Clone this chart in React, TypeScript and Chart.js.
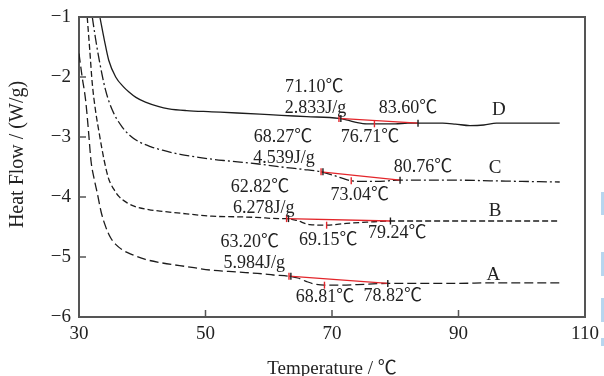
import React, { useEffect, useRef } from "react";
import { Chart, registerables } from "chart.js";
Chart.register(...registerables);

const FONT = "'Liberation Serif', 'Noto Sans CJK SC', serif";

// ---- Data (temperature °C, heat flow W/g) ----
const tA = [30, 30.5, 31.05, 31.5, 31.9, 32.4, 32.9, 33.5, 34.2, 35, 35.8, 37, 38.4, 40.5, 43.2, 47, 51, 55, 59, 60.7, 63.2, 64.6, 66, 67.2, 68.81, 71, 74, 78.82, 85, 90, 95, 100, 106];
const vA = [-1.61, -2.0, -2.39, -2.9, -3.4, -3.7, -3.94, -4.25, -4.49, -4.68, -4.79, -4.89, -4.96, -5.04, -5.10, -5.16, -5.22, -5.25, -5.28, -5.30, -5.32, -5.35, -5.41, -5.45, -5.47, -5.47, -5.46, -5.44, -5.44, -5.44, -5.43, -5.43, -5.43];

const tB = [31.3, 31.7, 32.1, 32.6, 33.2, 34.0, 34.7, 35.5, 36.3, 37.5, 38.9, 41, 43.2, 47, 51, 55, 58, 61.6, 62.82, 64.4, 66.5, 69.15, 72.3, 75.5, 79.24, 85, 90, 95, 100, 106];
const vB = [-1.0, -1.55, -2.11, -2.55, -2.94, -3.4, -3.7, -3.87, -3.99, -4.09, -4.16, -4.21, -4.24, -4.28, -4.32, -4.33, -4.34, -4.36, -4.36, -4.39, -4.46, -4.47, -4.44, -4.42, -4.40, -4.40, -4.40, -4.40, -4.40, -4.40];

const tC = [32.1, 32.6, 33.2, 34.2, 35.3, 36.8, 38, 39.5, 41.3, 43.2, 46, 48.4, 51, 53.7, 58.4, 62, 65.4, 68.27, 70, 71.7, 73.04, 75, 77, 80.76, 85, 90, 95, 100, 106];
const vC = [-1.0, -1.35, -1.72, -2.22, -2.56, -2.83, -2.97, -3.08, -3.16, -3.22, -3.29, -3.33, -3.37, -3.40, -3.45, -3.50, -3.54, -3.58, -3.63, -3.69, -3.73, -3.74, -3.74, -3.72, -3.72, -3.72, -3.73, -3.74, -3.75];

const tD = [33.3, 34.0, 34.7, 35.8, 37.0, 37.9, 39.0, 40.5, 42.5, 44.2, 47, 51, 55, 58.6, 62, 66, 71.1, 72.5, 74, 75.5, 76.71, 78.5, 80, 82, 83.6, 85.5, 87.5, 89.5, 91.8, 94, 96, 100, 106];
const vD = [-1.0, -1.38, -1.72, -2.0, -2.16, -2.25, -2.34, -2.42, -2.49, -2.53, -2.56, -2.58, -2.60, -2.62, -2.64, -2.66, -2.69, -2.72, -2.76, -2.78, -2.78, -2.78, -2.78, -2.77, -2.77, -2.77, -2.77, -2.785, -2.81, -2.80, -2.77, -2.77, -2.77];

const seriesNames = ["A", "B", "C", "D"];
const onsetT = [63.2, 62.82, 68.27, 71.1];
const onsetV = [-5.32, -4.36, -3.58, -2.69];
const peakT = [68.81, 69.15, 73.04, 76.71];
const peakV = [-5.47, -4.47, -3.73, -2.78];
const endT = [78.82, 79.24, 80.76, 83.6];
const endV = [-5.44, -4.4, -3.72, -2.77];
const enthalpy = ["5.984J/g", "6.278J/g", "4.539J/g", "2.833J/g"];

const xTicks = [30, 50, 70, 90, 110];
const yTicks = [-1, -2, -3, -4, -5, -6];

// annotation anchor positions (data coordinates)
const onsetLabelAt = [[57.0, -4.75], [58.6, -3.83], [62.25, -3.0], [67.2, -2.17]];
const enthLabelAt = [[57.7, -5.1], [59.2, -4.18], [62.4, -3.35], [67.4, -2.52]];
const peakLabelAt = [[68.9, -5.67], [69.4, -4.72], [74.4, -3.97], [76.0, -3.0]];
const endLabelAt = [[79.6, -5.65], [80.3, -4.6], [84.4, -3.5], [82.0, -2.52]];
const nameLabelAt = [[95.5, -5.3], [95.8, -4.23], [95.8, -3.52], [96.4, -2.55]];

const mk = (t: number[], v: number[]) => t.map((x, i) => ({ x, y: v[i] }));

export default function App() {
  const ref = useRef<HTMLCanvasElement>(null);
  useEffect(() => {
    document.body.style.margin = "0";
    const canvas = ref.current!;
    const curves = [
      { t: tA, v: vA, dash: [9, 4] },
      { t: tB, v: vB, dash: [6, 3] },
      { t: tC, v: vC, dash: [10, 3, 2, 3] },
      { t: tD, v: vD, dash: [] as number[] },
    ];
    const RED = "#e3262b";
    const INK = "#1c1c1c";

    const redTicks = { x: [] as number[], y: [] as number[] };
    const blackTicks = { x: [] as number[], y: [] as number[] };
    for (let i = 0; i < 4; i++) {
      redTicks.x.push(onsetT[i], peakT[i]);
      redTicks.y.push(onsetV[i], peakV[i]);
      blackTicks.x.push(onsetT[i] + 0.3, endT[i]);
      blackTicks.y.push(onsetV[i], endV[i]);
    }

    const datasets: any[] = [];
    datasets.push({
      data: mk(redTicks.x, redTicks.y), showLine: false, pointStyle: "line", rotation: 90,
      pointRadius: 3.5, pointBorderColor: RED, pointBorderWidth: 1.4, borderColor: RED,
    });
    datasets.push({
      data: mk(blackTicks.x, blackTicks.y), showLine: false, pointStyle: "line", rotation: 90,
      pointRadius: 3.5, pointBorderColor: INK, pointBorderWidth: 1.4, borderColor: INK,
    });
    for (let i = 0; i < 4; i++) {
      datasets.push({
        data: mk([onsetT[i], endT[i]], [onsetV[i], endV[i]]),
        borderColor: RED, borderWidth: 1.3, pointRadius: 0,
      });
    }
    curves.forEach((c) => {
      datasets.push({
        data: mk(c.t, c.v), borderColor: INK, borderWidth: 1.3, borderDash: c.dash,
        pointRadius: 0, cubicInterpolationMode: "monotone",
      });
    });

    const framePlugin = {
      id: "frame",
      afterDraw(chart: any) {
        const { ctx, chartArea: a, scales } = chart;
        ctx.save();
        ctx.strokeStyle = "#555";
        ctx.lineWidth = 2;
        ctx.beginPath();
        ctx.moveTo(a.left, a.top); ctx.lineTo(a.right, a.top); ctx.lineTo(a.right, a.bottom);
        ctx.stroke();
        ctx.lineWidth = 1.5;
        ctx.beginPath();
        xTicks.slice(1, -1).forEach((t) => {
          const px = scales.x.getPixelForValue(t);
          ctx.moveTo(px, a.bottom); ctx.lineTo(px, a.bottom - 7);
        });
        yTicks.slice(1, -1).forEach((v) => {
          const py = scales.y.getPixelForValue(v);
          ctx.moveTo(a.left, py); ctx.lineTo(a.left + 7, py);
        });
        ctx.stroke();
        // small light-blue strips at the right edge of the picture
        ctx.fillStyle = "#b7d6ef";
        [[192, 23], [252, 24], [298, 24], [338, 8]].forEach(([y, h]) => ctx.fillRect(601, y, 3, h));
        ctx.restore();
      },
      afterDatasetsDraw(chart: any) {
        const { ctx, scales } = chart;
        ctx.save();
        ctx.fillStyle = "#222";
        ctx.textAlign = "center";
        ctx.textBaseline = "middle";
        const put = (txt: string, p: number[], size: number) => {
          ctx.font = `${size}px ${FONT}`;
          ctx.fillText(txt, scales.x.getPixelForValue(p[0]), scales.y.getPixelForValue(p[1]));
        };
        for (let i = 0; i < 4; i++) {
          put(onsetT[i].toFixed(2) + "℃", onsetLabelAt[i], 18);
          put(enthalpy[i], enthLabelAt[i], 18);
          put(peakT[i].toFixed(2) + "℃", peakLabelAt[i], 18);
          put(endT[i].toFixed(2) + "℃", endLabelAt[i], 18);
          put(seriesNames[i], nameLabelAt[i], 19);
        }
        ctx.restore();
      },
    };

    const chart = new Chart(canvas, {
      type: "line",
      data: { datasets },
      plugins: [framePlugin],
      options: {
        animation: false,
        responsive: false,
        layout: { padding: { left: 0, top: 17, right: 19, bottom: 0 } },
        plugins: { legend: { display: false }, tooltip: { enabled: false } },
        scales: {
          x: {
            type: "linear", min: 30, max: 110,
            afterBuildTicks: (s: any) => { s.ticks = xTicks.map((v) => ({ value: v })); },
            ticks: { font: { family: FONT, size: 19 }, color: "#222", padding: -2, maxRotation: 0, autoSkip: false },
            grid: { display: false },
            border: { display: true, color: "#555", width: 2 },
            title: { display: true, text: "Temperature / ℃", color: "#222", font: { family: FONT, size: 19 }, padding: { top: 0, bottom: -4 } },
            afterFit: (s: any) => { s.height = 59; },
          },
          y: {
            type: "linear", min: -6, max: -1,
            afterBuildTicks: (s: any) => { s.ticks = yTicks.map((v) => ({ value: v })); },
            ticks: {
              font: { family: FONT, size: 19 }, color: "#222", padding: 0,
              callback: (v: any) => (v < 0 ? "−" + Math.abs(v) : String(v)),
            },
            grid: { display: false },
            border: { display: true, color: "#555", width: 2 },
            title: { display: true, text: "\u2003 Heat Flow / (W/g)", color: "#222", font: { family: FONT, size: 20 }, padding: { top: 6, bottom: 0 } },
            afterFit: (s: any) => { s.width = 79; },
          },
        },
      },
    });
    return () => chart.destroy();
  }, []);
  return (
    <div style={{ width: 604, height: 376, background: "#fff" }}>
      <canvas ref={ref} width={604} height={376} style={{ display: "block" }} />
    </div>
  );
}
